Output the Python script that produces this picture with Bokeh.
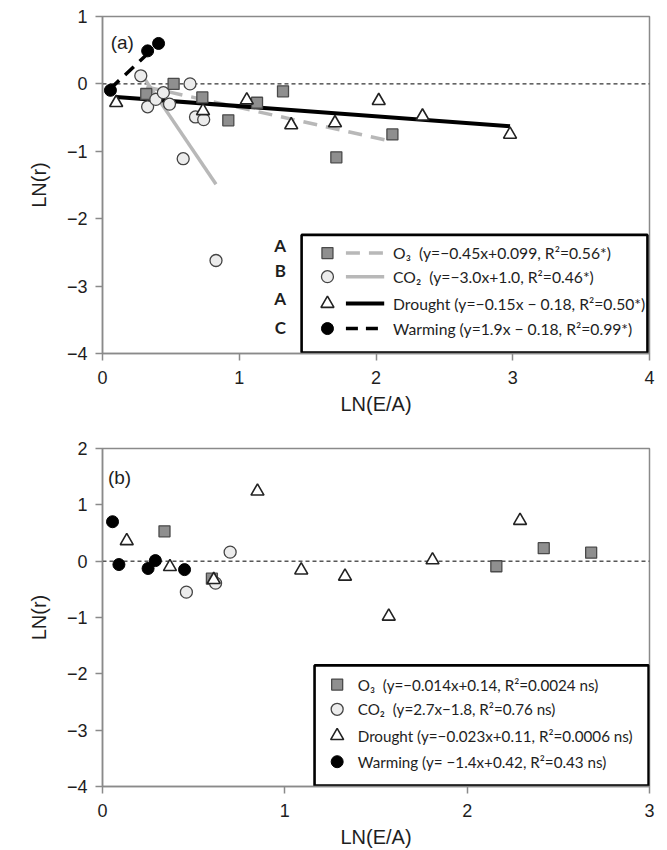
import numpy as np
from bokeh.plotting import figure
from bokeh.layouts import column
from bokeh.models import Range1d, FixedTicker, Label, Span
from bokeh.core.properties import value
from bokeh.embed import file_html
from bokeh.resources import INLINE

# ---------------- data ----------------
series = ["O3", "CO2", "Drought", "Warming"]

# panel (a)
a_o3_x = [0.32, 0.52, 0.73, 0.92, 1.13, 1.32, 1.71, 2.12]
a_o3_y = [-0.15, 0.00, -0.20, -0.54, -0.28, -0.11, -1.09, -0.75]
a_co2_x = [0.28, 0.33, 0.39, 0.445, 0.49, 0.59, 0.64, 0.68, 0.74, 0.83]
a_co2_y = [0.12, -0.34, -0.23, -0.13, -0.30, -1.11, 0.00, -0.49, -0.53, -2.62]
a_dr_x = [0.10, 0.735, 1.055, 1.38, 1.70, 2.02, 2.34, 2.98]
a_dr_y = [-0.28, -0.40, -0.24, -0.61, -0.58, -0.25, -0.48, -0.75]
a_wa_x = [0.058, 0.33, 0.41]
a_wa_y = [-0.095, 0.49, 0.60]
a_slopes = [-0.45, -3.0, -0.15, 1.9]
a_intercepts = [0.099, 1.0, -0.18, -0.18]
a_labels = ["O\u2083\u00a0 (y=\u22120.45x+0.099, R\u00b2=0.56*)",
            "CO\u2082\u00a0 (y=\u22123.0x+1.0, R\u00b2=0.46*)",
            "Drought (y=\u22120.15x \u2212 0.18, R\u00b2=0.50*)",
            "Warming (y=1.9x \u2212 0.18, R\u00b2=0.99*)"]
a_letters = ["A", "B", "A", "C"]

# panel (b)
b_o3_x = [0.34, 0.60, 2.16, 2.42, 2.68]
b_o3_y = [0.53, -0.31, -0.09, 0.23, 0.15]
b_co2_x = [0.46, 0.62, 0.70]
b_co2_y = [-0.55, -0.39, 0.16]
b_dr_x = [0.133, 0.37, 0.61, 0.85, 1.09, 1.33, 1.57, 1.81, 2.29]
b_dr_y = [0.36, -0.10, -0.33, 1.24, -0.16, -0.27, -0.98, 0.02, 0.72]
b_wa_x = [0.055, 0.09, 0.25, 0.29, 0.45]
b_wa_y = [0.70, -0.06, -0.13, 0.01, -0.15]
b_labels = ["O\u2083\u00a0 (y=\u22120.014x+0.14, R\u00b2=0.0024 ns)",
            "CO\u2082\u00a0 (y=2.7x\u22121.8, R\u00b2=0.76 ns)",
            "Drought (y=\u22120.023x+0.11, R\u00b2=0.0006 ns)",
            "Warming (y= \u22121.4x+0.42, R\u00b2=0.43 ns)"]

a_x_ticks = [0, 1, 2, 3, 4]
a_y_ticks = [-4, -3, -2, -1, 0, 1]
b_x_ticks = [0, 1, 2, 3]
b_y_ticks = [-4, -3, -2, -1, 0, 1, 2]

# ---------------- styles ----------------
STYLE = {
    "O3": dict(marker="square", fill="#8f8f8f", edge="#4a4a4a", size=11, lw=1.3,
               lcolor="#b8b8b8", ldash="14 9", lwidth=3.5),
    "CO2": dict(marker="circle", fill="#ececec", edge="#444444", size=12, lw=1.3,
                lcolor="#b8b8b8", ldash="solid", lwidth=3.5),
    "Drought": dict(marker="triangle", fill="white", edge="#222222", size=13, lw=1.6,
                    lcolor="black", ldash="solid", lwidth=4),
    "Warming": dict(marker="circle", fill="black", edge="black", size=12, lw=1,
                    lcolor="black", ldash="12 8", lwidth=3.5),
}
AX = "#8a8a8a"
TXT = "#1e1e1e"
LEG_FONT = "Lato"


def fmt(t):
    return str(t).replace("-", "\u2212")


def build(data, fits, x_end, y_start, y_end, x_ticks, y_ticks, labels, letters,
          geom, tag, tag_xy, height, borders, leg_size):
    p = figure(width=667, height=height, x_range=Range1d(0, x_end),
               y_range=Range1d(y_start, y_end), output_backend="svg",
               toolbar_location=None, min_border_left=borders[0],
               min_border_right=borders[1], min_border_top=borders[2],
               min_border_bottom=borders[3])
    p.grid.visible = False
    p.outline_line_color = AX
    p.outline_line_width = 1.5
    for ax in (p.xaxis[0], p.yaxis[0]):
        ax.axis_line_color = AX
        ax.axis_line_width = 1.5
        ax.major_tick_line_color = AX
        ax.major_tick_line_width = 1.5
        ax.major_tick_in = 0
        ax.major_tick_out = 7
        ax.minor_tick_line_color = None
        ax.major_label_text_font = "Liberation Sans"
        ax.major_label_text_font_size = "18px"
        ax.major_label_text_color = TXT
        ax.axis_label_text_font = "Liberation Sans"
        ax.axis_label_text_font_size = "20px"
        ax.axis_label_text_font_style = "normal"
        ax.axis_label_text_color = TXT
    p.xaxis.ticker = FixedTicker(ticks=x_ticks)
    p.yaxis.ticker = FixedTicker(ticks=y_ticks)
    p.xaxis.major_label_overrides = {t: fmt(t) for t in x_ticks}
    p.yaxis.major_label_overrides = {t: fmt(t) for t in y_ticks}
    p.xaxis.major_label_standoff = 10
    p.yaxis.major_label_standoff = 8
    p.xaxis.axis_label = "LN(E/A)"
    p.yaxis.axis_label = "LN(r)"
    p.xaxis.axis_label_standoff = 6
    p.yaxis.axis_label_standoff = 14

    p.add_layout(Span(location=0, dimension="width", line_color="black",
                      line_width=1, line_dash="4 3", level="underlay"))

    # fitted lines
    if fits is not None:
        for name, (slope, icpt) in zip(series, fits):
            xs = np.array([min(data[name][0]), max(data[name][0])])
            st = STYLE[name]
            p.line(xs, slope * xs + icpt, line_color=st["lcolor"],
                   line_width=st["lwidth"], line_dash=st["ldash"])

    # points
    for name in series:
        st = STYLE[name]
        p.scatter(data[name][0], data[name][1], marker=st["marker"], size=st["size"],
                  fill_color=st["fill"], line_color=st["edge"], line_width=st["lw"])

    # legend box
    p.quad(left=[geom["left"]], right=[geom["right"]], top=[geom["top"]],
           bottom=[geom["bottom"]], fill_color="white", line_color="black",
           line_width=2.6)
    for name, yr in zip(series, geom["rows"]):
        st = STYLE[name]
        p.scatter([geom["mx"]], [yr], marker=st["marker"], size=st["size"],
                  fill_color=st["fill"], line_color=st["edge"], line_width=st["lw"])
        if "lx" in geom:
            p.line(geom["lx"], [yr, yr], line_color=st["lcolor"],
                   line_width=st["lwidth"], line_dash=st["ldash"])
    p.text(x=[geom["tx"]] * len(labels), y=geom["rows"], text=labels,
           text_font=value(LEG_FONT), text_font_size=leg_size, text_color=TXT,
           text_baseline="middle", text_align="left")
    if letters is not None:
        p.text(x=[geom["letx"]] * len(letters), y=geom["letrows"], text=letters,
               text_font=value(LEG_FONT), text_font_size="17px",
               text_font_style="bold", text_color=TXT,
               text_baseline="middle", text_align="center")

    p.add_layout(Label(x=tag_xy[0], y=tag_xy[1], text=tag, text_font="Liberation Sans",
                       text_font_size="19px", text_color=TXT, text_baseline="middle"))
    return p


a_data = {"O3": (a_o3_x, a_o3_y), "CO2": (a_co2_x, a_co2_y),
          "Drought": (a_dr_x, a_dr_y), "Warming": (a_wa_x, a_wa_y)}
b_data = {"O3": (b_o3_x, b_o3_y), "CO2": (b_co2_x, b_co2_y),
          "Drought": (b_dr_x, b_dr_y), "Warming": (b_wa_x, b_wa_y)}

a_geom = dict(left=1.456, right=3.985, top=-2.24, bottom=-3.985,
              rows=[-2.51, -2.86, -3.26, -3.63], mx=1.645, lx=[1.78, 2.06],
              tx=2.125, letx=1.30, letrows=[-2.40, -2.77, -3.19, -3.61])
b_geom = dict(left=1.163, right=2.995, top=-1.85, bottom=-3.985,
              rows=[-2.19, -2.63, -3.10, -3.56], mx=1.287, tx=1.40)

pa = build(a_data, list(zip(a_slopes, a_intercepts)), 4, -4, 1, a_x_ticks, a_y_ticks,
           a_labels, a_letters, a_geom, "(a)", (0.06, 0.62), 425, (99, 18, 16, 72),
           "15.7px")
pb = build(b_data, None, 3, -4, 2, b_x_ticks, b_y_ticks,
           b_labels, None, b_geom, "(b)", (0.03, 1.49), 425, (102, 17, 23, 62),
           "15.2px")

layout = column(pa, pb)
open("out.html", "w").write(file_html(layout, INLINE))
